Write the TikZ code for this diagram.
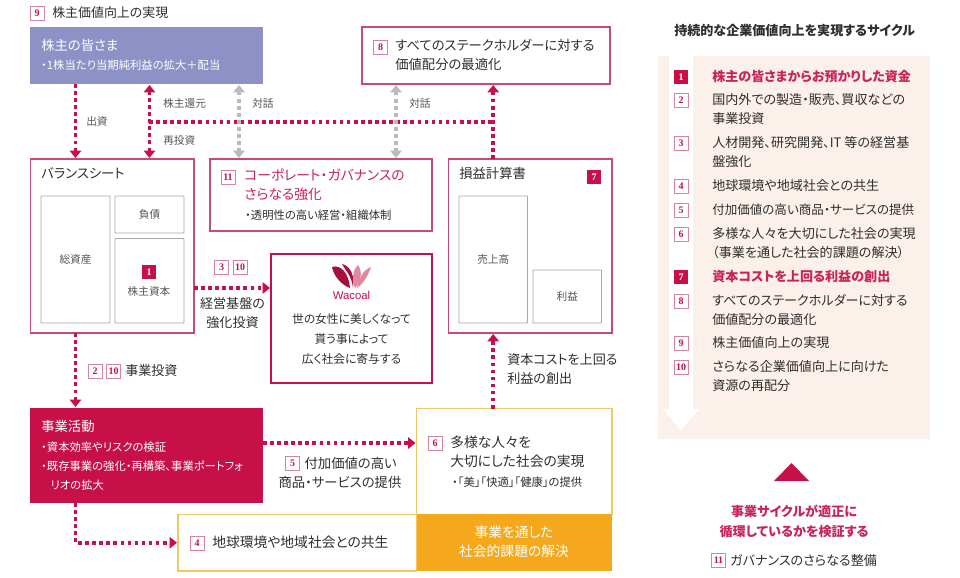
\documentclass[tikz,border=0pt]{standalone}
\usepackage{fontspec}
\usepackage{xcolor}
\usetikzlibrary{arrows.meta}
\setmainfont{Noto Sans CJK JP}[RawFeature=+palt]
\newfontfamily\badgefont{Liberation Serif}
\newfontfamily\logofont{Liberation Sans}
\definecolor{crimsonFg}{HTML}{C70F48}
\definecolor{crimsonText}{HTML}{C8245A}
\definecolor{pinkLine}{HTML}{C9497A}
\definecolor{badgeLine}{HTML}{D9829F}
\definecolor{logoPink}{HTML}{DE8A9F}
\definecolor{ownerBg}{HTML}{8D91C5}
\definecolor{orangeBg}{HTML}{F5A81C}
\definecolor{orangeLine}{HTML}{F3C766}
\definecolor{panelBg}{HTML}{FCF0EA}
\definecolor{greyLine}{HTML}{A8A8A8}
\definecolor{talkGrey}{HTML}{BBBBBB}
\definecolor{inkFg}{HTML}{2E2E2E}
\definecolor{softFg}{HTML}{555555}
\tikzset{
  boxsize/.style 2 args={minimum width=#1*0.75pt, minimum height=#2*0.75pt},
  block/.style={rectangle, anchor=north west, inner sep=0pt, outer sep=0pt},
  frame/.style={block, draw=pinkLine, line width=0.8pt},
  yellowframe/.style={block, draw=orangeLine, line width=0.8pt},
  inner/.style={block, draw=greyLine, line width=0.7pt, rounded corners=0.6pt,
    text=softFg, font=\fontsize{8}{12}\selectfont},
  txt/.style={anchor=west, inner sep=0pt, align=left, text=inkFg,
    text height=8.4pt, text depth=1.2pt, font=\fontsize{10}{14.25}\selectfont},
  bigtxt/.style={txt, font=\fontsize{10.35}{14.25}\selectfont},
  listtxt/.style={txt, font=\fontsize{9.8}{14.25}\selectfont},
  small/.style={txt, text height=7pt, text depth=1pt, font=\fontsize{8.5}{14.25}\selectfont},
  note/.style={small, text=softFg, font=\fontsize{8}{14.25}\selectfont},
  badge/.style={rectangle, draw=badgeLine, line width=0.6pt, fill=white, text=crimsonFg,
    inner sep=0pt, minimum size=10.5pt, font=\fontsize{7.5}{9}\badgefont\bfseries},
  badgeon/.style={badge, draw=none, fill=crimsonFg, text=white},
  flow/.style={draw=crimsonFg, line width=2.7pt, dash pattern=on 2.7pt off 2.6pt,
    shorten >=0.75pt, -{Triangle[width=8.5pt,length=5.5pt]}},
  flowboth/.style={flow, shorten <=0.75pt, {Triangle[width=8.5pt,length=5.5pt]}-{Triangle[width=8.5pt,length=5.5pt]}},
  talk/.style={flowboth, draw=talkGrey, fill=talkGrey}
}

\begin{document}
\begin{tikzpicture}[x=0.75pt, y=-0.75pt]
  \useasboundingbox (0,0) rectangle (960,578);

  % left side, boxes
  \node[block, fill=ownerBg, boxsize={233}{57}] (shareholders) at (30,27) {};
  \node[frame, boxsize={248}{57}] (stakeholders) at (362,27) {};
  \node[frame, boxsize={163.5}{174}] (balance) at (30.5,159) {};
  \node[frame, boxsize={222}{72}] (governance) at (210,159) {};
  \node[frame, boxsize={163.5}{174}] (income) at (448.5,159) {};
  \node[block, draw=crimsonFg, line width=1.5pt, boxsize={161}{129}] (wacoal) at (271,254) {};
  \node[block, fill=crimsonFg, boxsize={233}{95}] (activity) at (30,408) {};
  \node[yellowframe, boxsize={195.5}{106}] (diversity) at (416.5,408.5) {};
  \node[yellowframe, boxsize={238.5}{56.5}] (coexist) at (178,514.5) {};
  \node[block, fill=orangeBg, boxsize={195.5}{57}] (solution) at (416.5,514) {};

  \node[inner, boxsize={69}{127}] (assets) at (41,196) {};
  \node[inner, boxsize={69}{37}] (debt) at (115,196) {負債};
  \node[inner, boxsize={69}{84.5}] (equity) at (115,238.5) {};
  \node[inner, boxsize={68.5}{127}] (sales) at (459,196) {};
  \node[inner, boxsize={68.5}{53}] (profit) at (533,270) {利益};
  \node[note, anchor=center] (assetsLabel) at (assets) {総資産};
  \node[note, anchor=center] (salesLabel) at (sales) {売上高};
  \node[badgeon] (badgeEquity) at (149,272) {1};
  \node[note, anchor=center] (equityLabel) at (149,291) {株主資本};

  % left side, texts
  \node[badge] (badgeTop) at (37,13) {9};
  \node[txt, font=\fontsize{9.7}{14.25}\selectfont] (topLabel) at (52,13) {株主価値向上の実現};
  \node[txt, text=white] (ownerTitle) at (41,46) {株主の皆さま};
  \node[small, text=white] (ownerSub) at (41,65) {・1株当たり当期純利益の拡大＋配当};
  \node[badge] (badgeStake) at (380.5,47) {8};
  \node[txt] (stakeText) at (395,64.5) {すべてのステークホルダーに対する\\価値配分の最適化};
  \node[txt] (balanceTitle) at (41,174) {バランスシート};
  \node[badge] (badgeGov) at (228,177) {11};
  \node[bigtxt, text=crimsonText] (govTitle) at (244,195) {コーポレート・ガバナンスの\\さらなる強化};
  \node[small] (govSub) at (245,215) {・透明性の高い経営・組織体制};
  \node[txt] (incomeTitle) at (459,174) {損益計算書};
  \node[badgeon] (badgeIncome) at (594,177) {7};
  \node[note] (payIn) at (86,121) {出資};
  \node[note] (payBack) at (163,103) {株主還元};
  \node[note] (reinvest) at (163,140) {再投資};
  \node[note] (talkA) at (252,103) {対話};
  \node[note] (talkB) at (409,103) {対話};
  \node[badge] (badgeThree) at (221.5,267.5) {3};
  \node[badge] (badgeTen) at (240,267.5) {10};
  \node[listtxt, anchor=center, align=center] (baseText) at (232.5,323) {経営基盤の\\強化投資};
  \node[badge] (badgeTwo) at (95,371) {2};
  \node[badge] (badgeTenB) at (113.5,371) {10};
  \node[listtxt] (investText) at (125,371) {事業投資};
  \node[txt, text=white] (activityTitle) at (41,427) {事業活動};
  \node[small, text=white] (activitySub) at (41,485) {・資本効率やリスクの検証\\・既存事業の強化・再構築、事業ポートフォ\\\hspace*{7pt}リオの拡大};
  \node[badge] (badgeFive) at (292.5,463.5) {5};
  \node[txt, anchor=center, align=center] (valueText) at (340,483) {\hspace*{16pt}付加価値の高い\\商品・サービスの提供};
  \node[listtxt] (capitalText) at (507,379) {資本コストを上回る\\利益の創出};
  \node[badge] (badgeSix) at (435,443) {6};
  \node[bigtxt] (diverseText) at (450,462) {多様な人々を\\大切にした社会の実現};
  \node[small, text=inkFg] (diverseSub) at (452,482) {・「美」「快適」「健康」の提供};
  \node[badge] (badgeFour) at (197,543) {4};
  \node[bigtxt] (coexistText) at (212,543) {地球環境や地域社会との共生};
  \node[bigtxt, anchor=center, align=center, text=white] (solutionText) at (514,552) {事業を通した\\社会的課題の解決};

  % logo
  \fill[crimsonFg!85!black] (332,267) .. controls (341,264) and (349,274) .. (350,288) .. controls (342,285) and (334,277) .. (332,267);
  \fill[crimsonFg!85!black] (342,264) .. controls (351,266) and (355,277) .. (353,288) .. controls (352,276) and (345,270) .. (342,264);
  \fill[logoPink] (358,265) .. controls (363,272) and (361,282) .. (355,288) .. controls (352,280) and (352,271) .. (358,265);
  \fill[logoPink] (371,267) .. controls (368,276) and (363,284) .. (357,288) .. controls (359,278) and (363,270) .. (371,267);
  \node[anchor=center, inner sep=0pt, text=crimsonFg, font=\fontsize{8.5}{10}\logofont] (logoText) at (351.5,295) {Wacoal};
  \node[listtxt, anchor=center, align=center, font=\fontsize{8.8}{15}\selectfont] (mottoText) at (351.5,359) {世の女性に美しくなって\\貰う事によって\\広く社会に寄与する};

  % connectors
  \coordinate (returnL) at (149,122);
  \coordinate (returnR) at (493,122);
  \coordinate (talkL) at (239,122);
  \coordinate (talkR) at (396,122);
  \coordinate (invest) at (200,288);
  \draw[flow] (shareholders.south -| assets) -- (balance.north -| assets);
  \draw[flowboth] (balance.north -| equity) -- (shareholders.south -| equity);
  \draw[flow, -] (returnL) -- (returnR);
  \draw[flow] (income.north -| sales) -- (stakeholders.south -| sales);
  \draw[talk] (shareholders.south -| talkL) -- (governance.north -| talkL);
  \draw[talk] (stakeholders.south -| talkR) -- (governance.north -| talkR);
  \draw[flow] (balance.east |- invest) -- (wacoal.west |- invest);
  \draw[flow] (balance.south -| assets) -- (activity.north -| assets);
  \draw[flow] (activity.east |- badgeSix) -- (diversity.west |- badgeSix);
  \draw[flow] (activity.south -| assets) |- (coexist.west);
  \draw[flow] (diversity.north -| sales) -- (income.south -| sales);

  % right side
  \node[txt, font=\fontsize{9.8}{14}\selectfont\bfseries] (cycleTitle) at (674,31) {持続的な企業価値向上を実現するサイクル};
  \node[block, fill=panelBg, boxsize={272}{383}] (cyclePanel) at (658,56) {};
  \fill[white] (669,56) -- (693,56) -- (693,409) -- (699.5,409) -- (681,430) -- (662.5,409) -- (669,409) -- cycle;
  \foreach \n/\y/\ty/\label in {2/100.5/119/{国内外での製造・販売、買収などの\\事業投資},
      3/143/162/{人材開発、研究開発、IT 等の経営基\\盤強化},
      4/186/186/{地球環境や地域社会との共生},
      5/210/210/{\fontsize{9.4}{14.25}\selectfont 付加価値の高い商品・サービスの提供},
      6/234/253/{多様な人々を大切にした社会の実現\\（事業を通した社会的課題の解決）},
      8/301/320/{すべてのステークホルダーに対する\\価値配分の最適化},
      9/343/343/{株主価値向上の実現},
      10/367/386/{さらなる企業価値向上に向けた\\資源の再配分}}{
    \node[badge] (item\n) at (681,\y) {\n};
    \node[listtxt] (itemText\n) at (712,\ty) {\label};
  }
  \foreach \n/\y/\label in {1/77/{株主の皆さまからお預かりした資金},7/277/{資本コストを上回る利益の創出}}{
    \node[badgeon] (item\n) at (681,\y) {\n};
    \node[listtxt, text=crimsonText, font=\fontsize{9.8}{14.25}\selectfont\bfseries] (itemText\n) at (712,\y) {\label};
  }
  \fill[crimsonFg] (774,481) -- (791.5,463) -- (809,481) -- cycle;
  \node[listtxt, anchor=center, align=center, text=crimsonText, font=\fontsize{9.8}{15}\selectfont\bfseries] (checkText) at (794,532) {事業サイクルが適正に\\循環しているかを検証する};
  \node[badge] (badgeGovB) at (718.5,560.5) {11};
  \node[listtxt] (govNote) at (730,560.5) {ガバナンスのさらなる整備};
\end{tikzpicture}
\end{document}
